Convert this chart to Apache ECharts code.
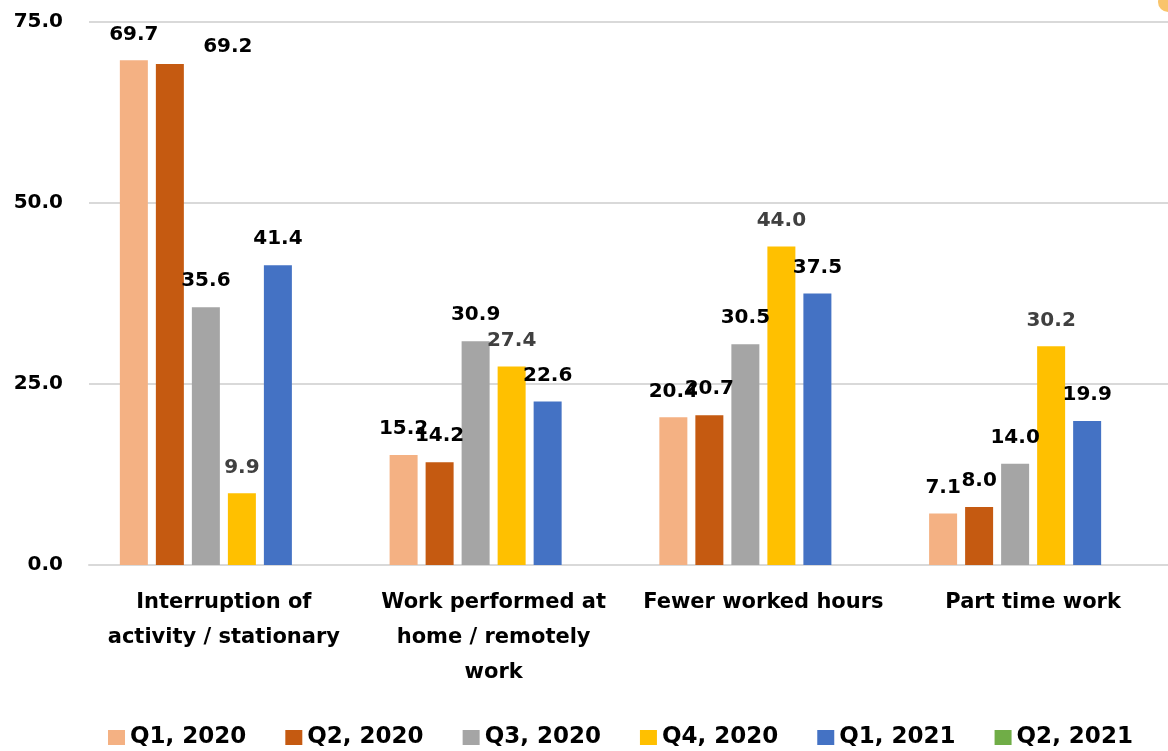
<!DOCTYPE html>
<html>
<head>
<meta charset="utf-8">
<title>Work status by quarter</title>
<script src="https://cdn.jsdelivr.net/npm/echarts@6/dist/echarts.min.js"></script>
<style>
  html, body { margin: 0; padding: 0; background: #fff; }
  #main { width: 1168px; height: 751px; }
</style>
</head>
<body>
<div id="main"></div>
<script>
// categories on the x axis
var categories = [
  'Interruption of\nactivity / stationary',
  'Work performed at\nhome / remotely\nwork',
  'Fewer worked hours',
  'Part time work'
];
var seriesNames = ['Q1, 2020', 'Q2, 2020', 'Q3, 2020', 'Q4, 2020', 'Q1, 2021', 'Q2, 2021'];
var q1_2020 = [69.7, 15.2, 20.4, 7.1];
var q2_2020 = [69.2, 14.2, 20.7, 8.0];
var q3_2020 = [35.6, 30.9, 30.5, 14.0];
var q4_2020 = [9.9, 27.4, 44.0, 30.2];
var q1_2021 = [41.4, 22.6, 37.5, 19.9];
var q2_2021 = [];   // no values yet, only in legend
var yTicks = [0, 25, 50, 75];

var colors = ['#F4B183', '#C55A11', '#A5A5A5', '#FFC000', '#4472C4', '#70AD47'];
var labelColors = ['#000', '#000', '#000', '#404040', '#000', '#000'];
var font = 'DejaVu Sans';

var chart = echarts.init(document.getElementById('main'));

function makeSeries(idx, values) {
  var data = values.map(function (v, i) {
    // the 69.2 label was dragged off to the right in the original
    if (idx === 1 && i === 0) {
      return { value: v, label: { offset: [58, 9] } };
    }
    return v;
  });
  return {
    name: seriesNames[idx],
    type: 'bar',
    barWidth: 28,
    barGap: '28.6%',
    itemStyle: { color: colors[idx] },
    label: {
      show: true,
      position: 'top',
      distance: 16,
      fontFamily: font,
      fontWeight: 'bold',
      fontSize: 20,
      color: labelColors[idx],
      formatter: function (p) { return Number(p.value).toFixed(1); }
    },
    data: data
  };
}

var option = {
  animation: false,
  color: colors,
  grid: { left: 89, top: 22, width: 1089, height: 543, containLabel: false },
  legend: {
    left: 103,
    top: 721,
    itemWidth: 17,
    itemHeight: 15,
    itemGap: 39,
    icon: 'rect',
    textStyle: { fontFamily: font, fontWeight: 'bold', fontSize: 23, color: '#000' },
    data: seriesNames
  },
  xAxis: {
    type: 'category',
    data: categories,
    axisTick: { show: false },
    axisLine: { lineStyle: { color: '#d9d9d9', width: 2 } },
    axisLabel: {
      interval: 0,
      margin: 20,
      lineHeight: 35,
      fontFamily: font,
      fontWeight: 'bold',
      fontSize: 21,
      color: '#000'
    }
  },
  yAxis: {
    type: 'value',
    min: yTicks[0],
    max: yTicks[yTicks.length - 1],
    interval: 25,
    axisLine: { show: false },
    axisTick: { show: false },
    splitLine: { lineStyle: { color: '#d9d9d9', width: 2 } },
    axisLabel: {
      margin: 26,
      fontFamily: font,
      fontWeight: 'bold',
      fontSize: 20,
      color: '#000',
      formatter: function (v) { return v.toFixed(1); }
    }
  },
  graphic: [
    { type: 'circle', shape: { cx: 1168, cy: 2, r: 10 }, style: { fill: '#f9c46b' }, silent: true }
  ],
  series: [
    makeSeries(0, q1_2020),
    makeSeries(1, q2_2020),
    makeSeries(2, q3_2020),
    makeSeries(3, q4_2020),
    makeSeries(4, q1_2021),
    makeSeries(5, q2_2021)
  ]
};

chart.setOption(option);
window.addEventListener('resize', function () {
  chart.resize();
});
</script>
</body>
</html>
